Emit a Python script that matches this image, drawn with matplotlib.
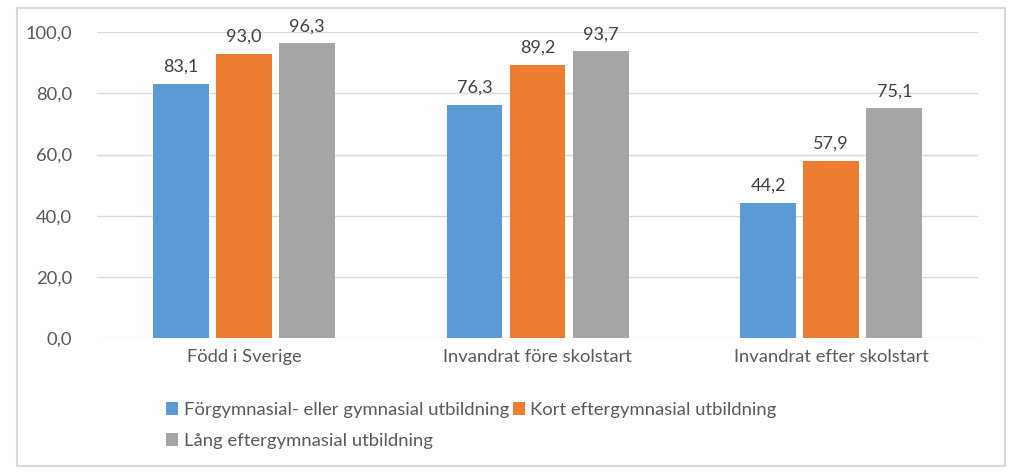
import numpy as np
import matplotlib.pyplot as plt
from matplotlib.patches import Rectangle

# data
categories = ['Född i Sverige', 'Invandrat före skolstart', 'Invandrat efter skolstart']
series_names = ['Förgymnasial- eller gymnasial utbildning',
                'Kort eftergymnasial utbildning',
                'Lång eftergymnasial utbildning']
forgymnasial = [83.1, 76.3, 44.2]
kort = [93.0, 89.2, 57.9]
lang = [96.3, 93.7, 75.1]
yticks = [0, 20, 40, 60, 80, 100]

colors = ['#5B9BD5', '#ED7D31', '#A5A5A5']
txt = '#595959'
plt.rcParams['font.family'] = ['Lato', 'DejaVu Sans']

fig = plt.figure(figsize=(10.24, 4.73), dpi=100)
ax = fig.add_axes([0.095, 0.2854, 0.86, 0.6466])

# outer frame
fig.patches.append(Rectangle((17 / 1024, 1 - 466 / 473), 988 / 1024, 458 / 473,
                             transform=fig.transFigure, fill=False,
                             edgecolor='#D9D9D9', linewidth=1.5))

x = np.arange(len(categories))
w = 0.19
step = 0.215
for i, vals in enumerate([forgymnasial, kort, lang]):
    pos = x + (i - 1) * step
    bars = ax.bar(pos, vals, w, color=colors[i], label=series_names[i], zorder=3)
    for b, v in zip(bars, vals):
        ax.text(b.get_x() + b.get_width() / 2, v + 3, f'{v:.1f}'.replace('.', ','),
                ha='center', va='bottom', fontsize=13, color='#404040')

ax.set_xlim(-0.5, 2.5)
ax.set_ylim(0, 100)
ax.set_yticks(yticks)
ax.set_yticklabels([f'{t:.1f}'.replace('.', ',') for t in yticks])
ax.set_xticks(x)
ax.set_xticklabels(categories)
ax.tick_params(axis='both', length=0, labelsize=13.2, colors=txt)
ax.tick_params(axis='y', pad=18)
ax.tick_params(axis='x', pad=8)
ax.grid(axis='y', color='#D9D9D9', linewidth=1, zorder=0)
for s in ax.spines.values():
    s.set_visible(False)

h, l = ax.get_legend_handles_labels()
order = [0, 2, 1]
fig.legend([h[k] for k in order], [l[k] for k in order], ncol=2, frameon=False,
           loc='upper left', bbox_to_anchor=(0.146, 0.186), fontsize=13.3,
           handlelength=0.65, handleheight=0.7, handletextpad=0.3,
           columnspacing=0.2, labelspacing=0.85, labelcolor=txt)

fig.savefig('out.png', dpi=100)
